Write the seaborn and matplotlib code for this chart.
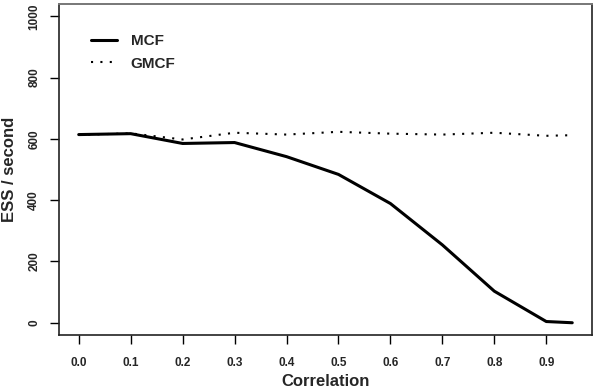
import pandas as pd
import matplotlib
matplotlib.use("Agg")
import matplotlib.pyplot as plt
import seaborn as sns

# values
correlation = [0.0, 0.1, 0.2, 0.3, 0.4, 0.5, 0.6, 0.7, 0.8, 0.9, 0.95]
mcf = [614, 617, 585, 588, 542, 484, 389, 254, 103, 4, 0]
gmcf = [613, 618, 598, 620, 614, 623, 617, 614, 620, 610, 612]
x_ticks = [0.0, 0.1, 0.2, 0.3, 0.4, 0.5, 0.6, 0.7, 0.8, 0.9]
y_ticks = [0, 200, 400, 600, 800, 1000]

df = pd.DataFrame({"Correlation": correlation, "MCF": mcf, "GMCF": gmcf})

sns.set_style("white")
plt.rcParams["font.family"] = ["Liberation Sans", "DejaVu Sans"]
plt.rcParams["font.weight"] = "bold"

fig = plt.figure(figsize=(5.94, 3.9), dpi=100)
ax = fig.add_axes([0.0993, 0.141, 0.8973, 0.8487])

sns.lineplot(x="Correlation", y="MCF", data=df, ax=ax, color="black",
             linewidth=2.2, label="MCF")
sns.lineplot(x="Correlation", y="GMCF", data=df, ax=ax, color="black",
             linewidth=1.5, linestyle=(0, (1, 3.5)), label="GMCF")

ax.set_xlim(-0.038, 0.988)
ax.set_ylim(-40, 1040)
ax.set_xticks(x_ticks)
ax.set_xticklabels([f"{t:.1f}" for t in x_ticks], fontsize=8.5, fontweight="bold")
ax.set_yticks(y_ticks)
ax.set_yticklabels([str(t) for t in y_ticks], fontsize=8.5, fontweight="bold",
                   rotation=90, va="center")
ax.tick_params(axis="both", direction="out", length=6.5, width=1,
               color="black", left=True, bottom=True)
ax.tick_params(axis="x", pad=9)
ax.tick_params(axis="y", pad=7)

for side in ["left", "bottom", "right"]:
    ax.spines[side].set_color("#222222")
    ax.spines[side].set_linewidth(1.2)
ax.spines["top"].set_color("#777777")
ax.spines["top"].set_linewidth(1.4)

ax.set_xlabel("Correlation", fontsize=12, fontweight="bold", labelpad=4)
ax.set_ylabel("ESS / second", fontsize=12, fontweight="bold", labelpad=8)

leg = ax.legend(loc="upper left", bbox_to_anchor=(0.034, 0.95), frameon=False,
                fontsize=11, handlelength=1.7, handletextpad=0.9,
                labelspacing=0.55)
for t in leg.get_texts():
    t.set_fontweight("bold")

fig.savefig("out.png", dpi=100)
